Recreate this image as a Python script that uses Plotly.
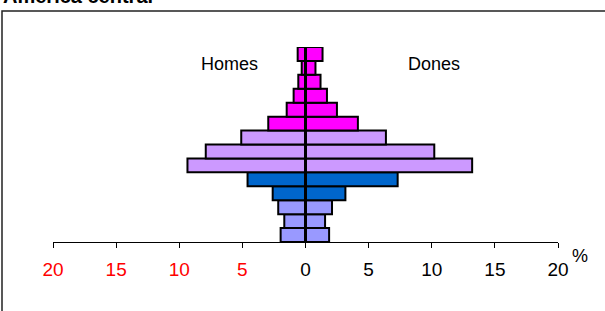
import plotly.graph_objects as go

# Age groups, bottom to top
age_groups = ["0-4", "5-9", "10-14", "15-19", "20-24", "25-29", "30-34",
              "35-39", "40-44", "45-49", "50-54", "55-59", "60-64", "65+"]
homes = [1.97, 1.68, 2.16, 2.6, 4.59, 9.35, 7.9, 5.09, 2.95, 1.49, 0.94, 0.57, 0.30, 0.62]
dones = [1.87, 1.55, 2.1, 3.16, 7.3, 13.2, 10.2, 6.37, 4.15, 2.49, 1.7, 1.19, 0.79, 1.35]
bar_colors = ["#9999FF"] * 3 + ["#0066CC"] * 2 + ["#CC99FF"] * 3 + ["#FF00FF"] * 6

tick_vals = [-20, -15, -10, -5, 0, 5, 10, 15, 20]
tick_text = ['<span style="color:#FF0000">20</span>', '<span style="color:#FF0000">15</span>',
             '<span style="color:#FF0000">10</span>', '<span style="color:#FF0000">5</span>',
             "0", "5", "10", "15", "20"]

FONT = "Liberation Sans, Arial, sans-serif"

fig = go.Figure()
fig.add_trace(go.Bar(
    y=age_groups, x=[-v for v in homes], orientation="h", name="Homes",
    marker=dict(color=bar_colors, line=dict(color="black", width=2)),
    showlegend=False, hoverinfo="skip"))
fig.add_trace(go.Bar(
    y=age_groups, x=dones, orientation="h", name="Dones",
    marker=dict(color=bar_colors, line=dict(color="black", width=2)),
    showlegend=False, hoverinfo="skip"))

W, H = 605, 311
ml, mr, mt, mb = 53, 47, 47, 69
pw, ph = W - ml - mr, H - mt - mb

def px_x(p):
    return (p - ml) / pw

def px_y(p):
    return (H - mb - p) / ph

fig.update_layout(
    width=W, height=H,
    margin=dict(l=ml, r=mr, t=mt, b=mb, pad=0),
    paper_bgcolor="white", plot_bgcolor="white",
    barmode="overlay", bargap=0,
    font=dict(family=FONT, size=18, color="black"),
    xaxis=dict(range=[-20, 20], tickvals=tick_vals, ticktext=tick_text,
               showline=True, linecolor="black", linewidth=1,
               ticks="outside", ticklen=5, tickcolor="black", tickwidth=1,
               ticklabelstandoff=5,
               showgrid=False, zeroline=False, fixedrange=True,
               tickfont=dict(family=FONT, size=19, color="black")),
    yaxis=dict(range=[-0.5, len(age_groups) - 0.5], visible=False,
               showgrid=False, zeroline=False, fixedrange=True),
    shapes=[
        dict(type="rect", xref="paper", yref="paper",
             x0=px_x(2), x1=px_x(620), y0=px_y(330), y1=px_y(11),
             line=dict(color="#222222", width=1.5), fillcolor="rgba(0,0,0,0)", layer="below"),
        dict(type="line", xref="x", yref="paper", x0=0, x1=0, y0=0, y1=1,
             line=dict(color="black", width=3)),
    ],
    annotations=[
        dict(text="<b>América central</b>", xref="paper", yref="paper",
             x=px_x(1), y=px_y(9), xanchor="left", yanchor="bottom",
             showarrow=False, font=dict(family=FONT, size=20, color="black")),
        dict(text="Homes", xref="paper", yref="paper", x=px_x(229.5), y=px_y(64),
             xanchor="center", yanchor="middle", showarrow=False,
             font=dict(family=FONT, size=18, color="black")),
        dict(text="Dones", xref="paper", yref="paper", x=px_x(434), y=px_y(64),
             xanchor="center", yanchor="middle", showarrow=False,
             font=dict(family=FONT, size=18, color="black")),
        dict(text="%", xref="paper", yref="paper", x=px_x(580), y=px_y(256),
             xanchor="center", yanchor="middle", showarrow=False,
             font=dict(family=FONT, size=18, color="black")),
    ],
)

fig.write_html("out.html", config={"displayModeBar": False, "staticPlot": True},
               post_script="document.body.style.margin='0';document.body.style.overflow='hidden';")
